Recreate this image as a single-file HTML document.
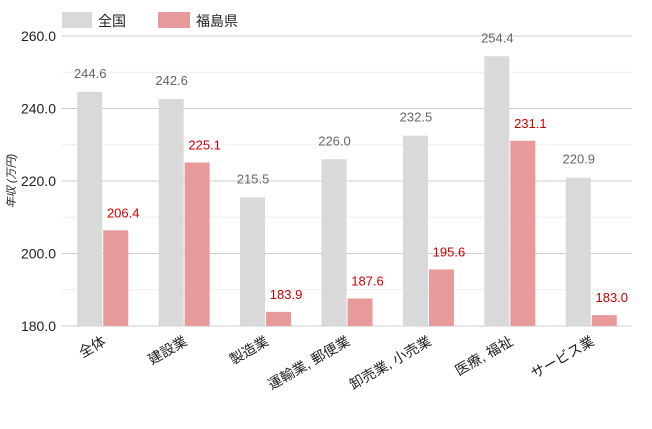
<!DOCTYPE html>
<html><head><meta charset="utf-8">
<style>
body{margin:0;background:#fff;}
svg text{font-family:"Liberation Sans","Noto Sans CJK JP",sans-serif;}
</style></head>
<body>
<svg id="chart" width="652" height="424" xmlns="http://www.w3.org/2000/svg">
<g id="legend">
<rect x="62" y="12" width="30" height="16" fill="#d9d9d9"/>
<text x="98" y="26" font-size="14" fill="#222">全国</text>
<rect x="158" y="12" width="32" height="16" fill="#e89a9a"/>
<text x="196" y="26" font-size="14" fill="#222">福島県</text>
</g>
<text transform="translate(15,181) rotate(-90)" text-anchor="middle" font-size="11" font-style="italic" fill="#222">年収 (万円)</text>
<g id="grid"></g><g id="bars"></g><g id="labels"></g>
</svg>
<script>
const categories=["全体","建設業","製造業","運輸業, 郵便業","卸売業, 小売業","医療, 福祉","サービス業"];
const national=[244.6,242.6,215.5,226.0,232.5,254.4,220.9];
const fukushima=[206.4,225.1,183.9,187.6,195.6,231.1,183.0];
const majorTicks=[180,200,220,240,260];
const minorTicks=[190,210,230,250];
const NS="http://www.w3.org/2000/svg";
const x0=62,x1=632,yTop=36,yBot=326,vMin=180,vMax=260;
const y=v=>yBot-(v-vMin)/(vMax-vMin)*(yBot-yTop);
const band=(x1-x0)/categories.length;
const cx=i=>x0+band*(i+0.5);
function mk(tag,attrs,parent,txt){const e=document.createElementNS(NS,tag);for(const k in attrs)e.setAttribute(k,attrs[k]);if(txt!==undefined)e.textContent=txt;parent.appendChild(e);return e;}
const grid=document.getElementById('grid'),bars=document.getElementById('bars'),labels=document.getElementById('labels');
minorTicks.forEach(t=>{const l=mk('line',{x1:x0,x2:x1,y1:y(t),y2:y(t),stroke:'#eeeeee'},grid);

});
majorTicks.forEach(t=>{const l=mk('line',{x1:x0,x2:x1,y1:y(t),y2:y(t),stroke:'#cccccc'},grid);


const tx=mk('text',{x:56,y:y(t)+5,'text-anchor':'end','font-size':14,fill:'#222'},grid,t.toFixed(1));

});
const bw=25;
categories.forEach((c,i)=>{
const c0=cx(i);
const g=mk('rect',{x:c0-bw-0.5,y:y(national[i]),width:bw,height:yBot-y(national[i]),fill:'#d9d9d9'},bars);


const r=mk('rect',{x:c0+0.5,y:y(fukushima[i]),width:bw,height:yBot-y(fukushima[i]),fill:'#e89a9a'},bars);


const gl=mk('text',{x:c0-bw/2,y:y(national[i])-14,'text-anchor':'middle','font-size':13,fill:'#666'},labels,national[i].toFixed(1));


const rl=mk('text',{x:c0+bw/2+8,y:y(fukushima[i])-13,'text-anchor':'middle','font-size':13,fill:'#cc0000'},labels,fukushima[i].toFixed(1));


const xl=mk('text',{transform:`translate(${c0+4},${yBot+18}) rotate(-30)`,'text-anchor':'end','font-size':14,fill:'#222'},labels,c);


});
</script>
</body></html>
